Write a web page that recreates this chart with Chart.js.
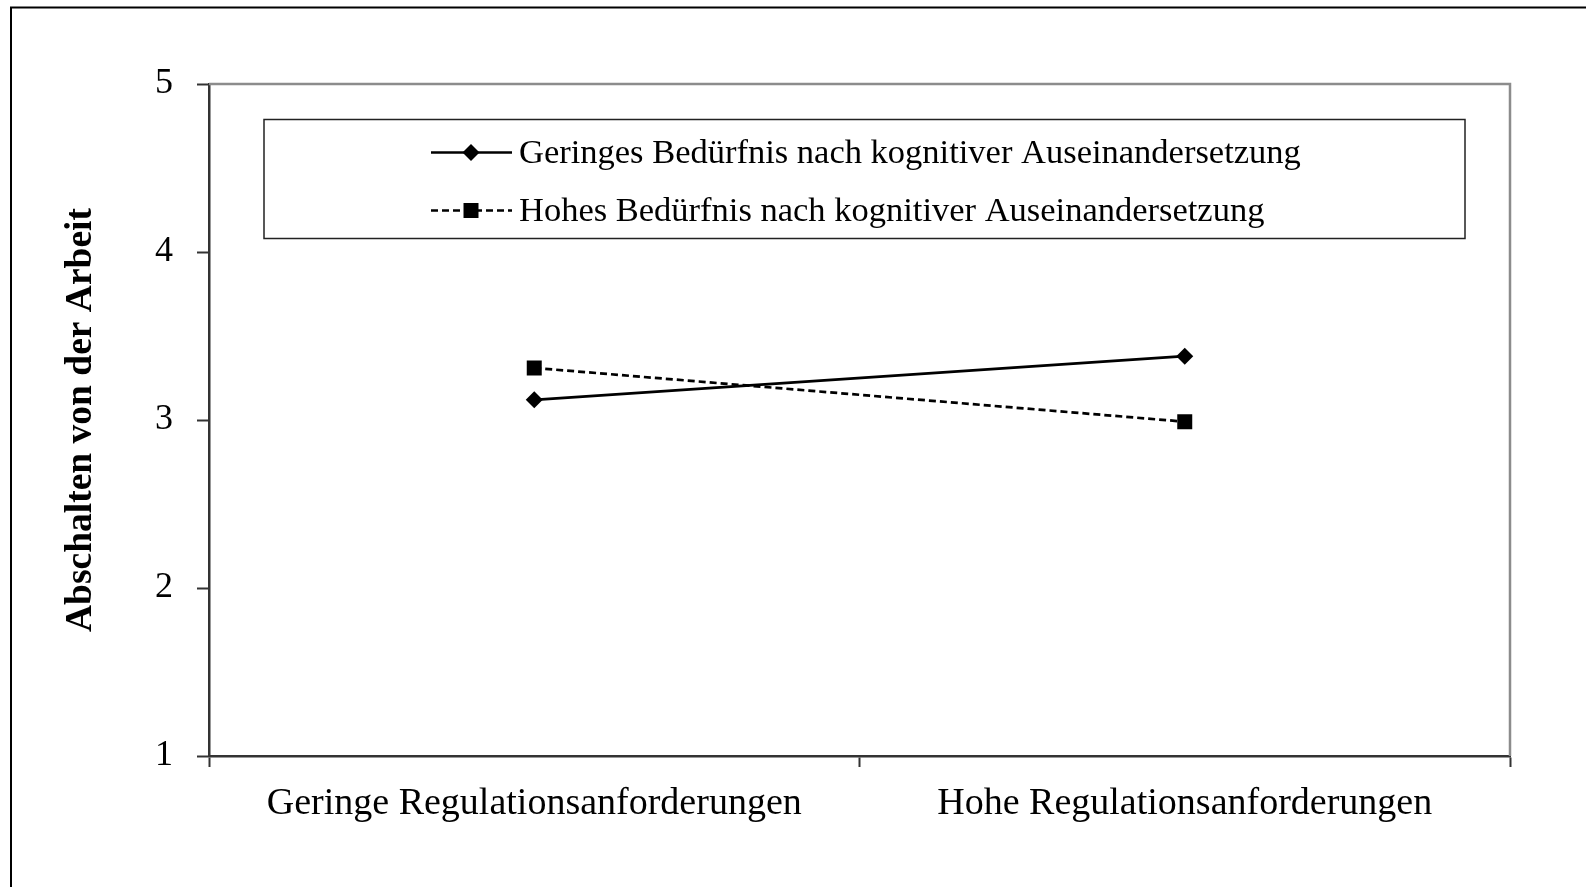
<!DOCTYPE html>
<html>
<head>
<meta charset="utf-8">
<script src="https://cdn.jsdelivr.net/npm/chart.js@4.4.1/dist/chart.umd.min.js"></script>
<style>
html, body { margin: 0; padding: 0; background: #fff; overflow: hidden; }
#wrap { width: 1586px; height: 887px; position: relative; }
</style>
</head>
<body>
<div id="wrap"><canvas id="canvas"></canvas></div>
<script>
// data
var categories = ['Geringe Regulationsanforderungen', 'Hohe Regulationsanforderungen'];
var seriesNames = ['Geringes Bedürfnis nach kognitiver Auseinandersetzung', 'Hohes Bedürfnis nach kognitiver Auseinandersetzung'];
var geringesValues = [3.12, 3.38];
var hohesValues = [3.31, 2.99];
var yTicks = [1, 2, 3, 4, 5];
var yTitle = 'Abschalten von der Arbeit';

var serif = "'Liberation Serif', 'Times New Roman', serif";

// outer frame + grey top/right plot border + legend box
var extras = {
  id: 'extras',
  beforeDraw: function(chart) {
    var ctx = chart.ctx;
    ctx.save();
    ctx.strokeStyle = '#000';
    ctx.lineWidth = 2;
    ctx.beginPath();
    ctx.moveTo(11, 900);
    ctx.lineTo(11, 7.5);
    ctx.lineTo(1600, 7.5);
    ctx.stroke();
    ctx.restore();
  },
  beforeDatasetsDraw: function(chart) {
    var a = chart.chartArea, ctx = chart.ctx;
    ctx.save();
    ctx.strokeStyle = '#8c8c8c';
    ctx.lineWidth = 2.5;
    ctx.beginPath();
    ctx.moveTo(a.left, a.top);
    ctx.lineTo(a.right, a.top);
    ctx.lineTo(a.right, a.bottom);
    ctx.stroke();
    ctx.restore();
  },
  afterDatasetsDraw: function(chart) {
    var a = chart.chartArea, ctx = chart.ctx;
    var bx = a.left + 55, by = a.top + 35.5, bw = 1201, bh = 119;
    ctx.save();
    ctx.fillStyle = '#fff';
    ctx.fillRect(bx, by, bw, bh);
    ctx.strokeStyle = '#222';
    ctx.lineWidth = 1.5;
    ctx.strokeRect(bx, by, bw, bh);
    chart.data.datasets.forEach(function(ds, i) {
      var y = by + 33 + i * 58;
      ctx.strokeStyle = ds.borderColor;
      ctx.lineWidth = ds.borderWidth;
      ctx.setLineDash(ds.borderDash || []);
      ctx.beginPath();
      ctx.moveTo(bx + 167, y);
      ctx.lineTo(bx + 248, y);
      ctx.stroke();
      ctx.setLineDash([]);
      ctx.fillStyle = ds.backgroundColor;
      Chart.helpers.drawPoint(ctx, {
        pointStyle: ds.pointStyle, radius: ds.pointRadius, borderWidth: 0
      }, bx + 207, y);
      ctx.fillStyle = '#000';
      ctx.font = '34.5px ' + serif;
      ctx.textBaseline = 'middle';
      ctx.textAlign = 'left';
      ctx.fillText(ds.label, bx + 255, y + 1);
    });
    ctx.restore();
  }
};

const ctx = document.getElementById('canvas').getContext('2d');
const myChart = new Chart(ctx, {
  type: 'line',
  data: {
    labels: categories,
    datasets: [{
      label: seriesNames[0],
      data: geringesValues,
      borderColor: '#000',
      backgroundColor: '#000',
      borderWidth: 2.7,
      pointStyle: 'rectRot',
      pointRadius: 8.5,
      pointBorderWidth: 0,
      fill: false
    }, {
      label: seriesNames[1],
      data: hohesValues,
      borderColor: '#000',
      backgroundColor: '#000',
      borderWidth: 2.7,
      borderDash: [7, 4],
      pointStyle: 'rect',
      pointRadius: 10.6,
      pointBorderWidth: 0,
      fill: false
    }]
  },
  options: {
    responsive: true,
    maintainAspectRatio: false,
    animation: false,
    elements: { line: { tension: 0 } },
    layout: { padding: { left: 0, top: 84, right: 76, bottom: 0 } },
    plugins: {
      legend: { display: false },
      tooltip: { enabled: false }
    },
    scales: {
      x: {
        offset: true,
        afterFit: function(scale) { scale.height = 131; },
        grid: {
          offset: true,
          drawOnChartArea: false,
          drawTicks: true,
          tickLength: 11,
          tickColor: '#333',
          tickWidth: 2
        },
        border: { display: true, color: '#333', width: 2.5 },
        ticks: {
          color: '#000',
          padding: 14,
          maxRotation: 0,
          font: { family: serif, size: 38 }
        }
      },
      y: {
        min: 1,
        max: 5,
        afterFit: function(scale) { scale.width = 209; },
        afterBuildTicks: function(scale) {
          scale.ticks = yTicks.map(function(v) { return { value: v }; });
        },
        grid: {
          drawOnChartArea: false,
          drawTicks: true,
          tickLength: 12,
          tickColor: '#333',
          tickWidth: 2
        },
        border: { display: true, color: '#333', width: 2.5 },
        ticks: {
          color: '#000',
          padding: 24,
          font: { family: serif, size: 36 }
        },
        title: {
          display: true,
          text: yTitle,
          color: '#000',
          padding: { top: 59, bottom: 0 },
          font: { family: serif, size: 37.5, weight: 'bold' }
        }
      }
    }
  },
  plugins: [extras]
});
</script>
</body>
</html>
